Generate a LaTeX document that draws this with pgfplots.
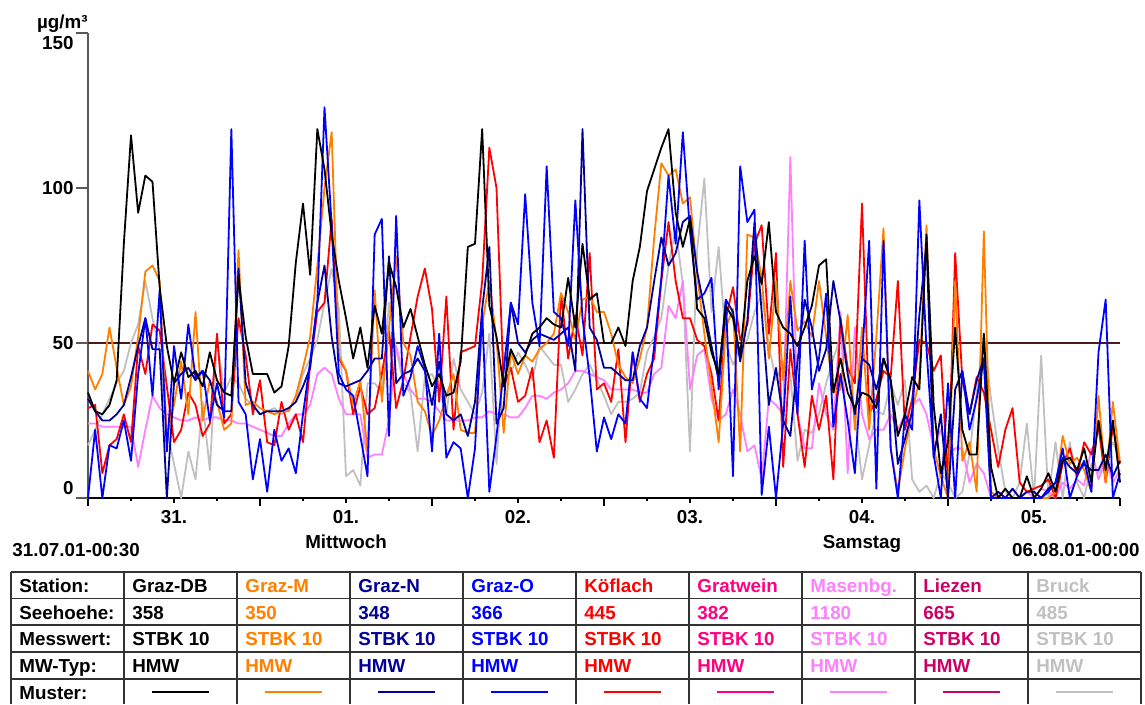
\documentclass[border=0pt]{standalone}
\usepackage{fontspec}
\setmainfont{Liberation Sans}
\usepackage{pgfplots}
\usepackage{pgfplotstable}
\pgfplotsset{compat=1.18}
\definecolor{cM}{HTML}{FF8000}
\definecolor{cN}{HTML}{000099}
\definecolor{cO}{HTML}{0000FF}
\definecolor{cK}{HTML}{FF0000}
\definecolor{cG}{HTML}{FF0080}
\definecolor{cMa}{HTML}{FF80FF}
\definecolor{cL}{HTML}{CC0066}
\definecolor{cB}{HTML}{C0C0C0}
\definecolor{cLim}{HTML}{4D1A1A}
\newcommand\lblfont{\bfseries\fontsize{9.4}{12.5}\selectfont}
\pgfplotstableread{
h db m n o k ma br
0 34 41 32 0 29 24 17
1 28 35 28 22 30 24 22
2 27 40 25 0 8 23 27
3 30 55 25 17 17 23 32
4 38 42 27 16 19 23 37
5 82 30 30 25 27 23 41
6 117 36 39 12 18 23 50
7 92 52 49 40 49 10 56
8 104 73 58 58 40 22 70
9 102 75 48 33 56 33 58
10 68 70 48 67 54 29 48
11 49 20 0 15 36 27 22
12 37 30 37 49 18 26 11
13 47 44 40 32 22 25 0
14 39 27 42 56 34 25 15
15 41 60 38 39 30 26 6
16 36 25 41 41 20 25 31
17 47 38 38 25 24 26 9
18 38 31 30 37 53 26 51
19 34 22 28 26 24 25 34
20 33 24 28 119 27 25 39
21 71 80 74 31 58 24 37
22 52 30 37 27 46 24 32
23 40 31 30 6 27 23 30
24 40 29 27 19 38 22 27
25 40 28 28 2 18 21 28
26 34 27 28 22 17 20 29
27 36 28 28 12 31 20 27
28 49 28 29 16 22 24 29
29 76 33 31 8 27 27 31
30 95 42 36 27 18 27 40
31 72 52 42 44 43 30 45
32 119 75 63 63 60 40 51
33 106 100 75 126 63 42 63
34 85 118 52 88 90 40 74
35 70 46 37 40 45 32 61
36 58 41 36 35 41 27 7
37 45 30 37 33 27 27 9
38 55 38 38 20 36 27 4
39 42 15 41 7 27 13 37
40 62 67 45 85 29 14 37
41 53 31 45 90 40 14 34
42 76 55 78 20 54 25 63
43 68 78 37 91 29 49 48
44 55 50 40 33 38 40 37
45 61 46 41 39 52 35 34
46 52 31 45 49 65 32 15
47 43 28 41 42 74 32 39
48 36 20 30 15 61 31 40
49 40 25 44 53 31 28 35
50 33 33 27 13 65 25 27
51 34 40 25 18 22 25 45
52 44 22 27 16 47 25 35
53 81 21 20 0 48 25 31
54 82 21 31 16 49 26 27
55 119 56 61 60 70 26 34
56 62 70 81 2 113 28 53
57 52 51 24 20 100 27 11
58 36 21 29 41 36 27 47
59 48 47 63 63 42 26 40
60 43 40 50 56 31 26 47
61 46 46 47 98 33 29 43
62 53 44 51 63 42 33 38
63 55 48 53 49 18 33 49
64 58 50 52 107 25 32 46
65 56 53 51 60 13 34 43
66 55 66 53 58 66 35 43
67 71 60 55 49 45 37 31
68 55 51 41 96 59 41 35
69 82 64 119 58 46 41 40
70 64 65 55 39 79 40 43
71 66 60 51 15 35 39 38
72 50 60 42 26 37 38 33
73 50 53 42 19 31 35 27
74 55 43 40 27 48 35 31
75 49 39 38 24 18 35 31
76 70 37 38 47 47 35 32
77 81 45 49 32 31 34 34
78 99 55 55 29 40 34 47
79 106 84 70 49 45 40 52
80 113 108 84 71 70 42 58
81 119 104 75 104 89 62 75
82 92 106 79 82 70 58 87
83 81 95 89 118 58 70 69
84 90 97 91 86 58 35 15
85 61 72 73 64 51 46 80
86 58 53 61 66 49 48 103
87 47 36 49 71 40 32 60
88 40 18 38 35 25 25 81
89 62 55 64 64 58 27 50
90 58 61 60 7 68 35 43
91 46 15 44 107 51 27 49
92 70 85 57 89 56 15 51
93 78 84 89 93 82 17 60
94 69 71 60 1 88 6 66
95 89 45 30 23 53 32 49
96 60 70 42 0 79 30 38
97 55 38 25 24 10 27 44
98 53 70 20 65 48 110 40
99 49 54 44 27 27 27 12
100 55 57 64 83 10 16 22
101 62 52 55 35 33 16 21
102 75 70 41 45 22 37 27
103 77 52 48 66 33 27 37
104 34 34 70 23 6 22 45
105 45 35 57 40 58 60 52
106 34 59 40 25 42 8 42
107 29 22 27 8 37 55 27
108 34 55 45 45 95 27 6
109 33 22 43 83 27 19 17
110 29 52 35 3 32 22 28
111 45 87 45 83 41 22 27
112 38 16 38 16 39 27 37
113 20 2 11 0 70 22 30
114 27 16 19 27 22 27 38
115 39 28 28 22 32 30 6
116 35 38 59 96 51 32 2
117 85 88 82 48 50 27 4
118 30 16 13 14 41 16 0
119 8 7 27 0 46 22 8
120 18 0 0 37 5 14 5
121 55 70 35 0 79 16 0
122 22 12 41 41 38 16 2
123 14 18 27 22 27 5 14
124 14 2 38 32 39 11 34
125 53 86 45 45 34 8 53
126 10 2 0 0 22 0 32
127 0 0 2 0 10 2 16
128 3 0 0 0 22 0 2
129 0 0 3 0 29 3 0
130 0 0 0 0 5 0 5
131 7 0 2 0 2 2 24
132 0 0 2 0 3 0 0
133 3 0 0 0 4 3 46
134 8 0 3 2 6 2 0
135 2 2 5 5 0 0 18
136 12 20 13 16 11 5 0
137 13 11 10 0 16 3 18
138 9 13 8 7 7 6 5
139 16 9 11 12 18 4 0
140 5 2 9 2 14 16 11
141 25 33 9 47 23 6 8
142 9 5 14 64 5 12 12
143 25 31 7 0 23 5 18
144 5 11 12 8 11 9 13
}\stbk
\begin{document}
\begin{tikzpicture}
\begin{scope}[x=0.5pt,y=-0.5pt,shift={(0pt,352pt)}]
\path[use as bounding box] (0,0) rectangle (1145,704);
\end{scope}
\begin{axis}[
  at={(44pt,103pt)}, anchor=south west,
  scale only axis, width=516pt, height=232.5pt,
  xmin=0, xmax=144, ymin=0, ymax=150,
  clip=false,
  axis x line=bottom, axis y line=left,
  axis line style={-},
  x axis line style={black, line width=0.7pt},
  y axis line style={black!65, line width=0.7pt},
  tick align=outside,
  tick style={black, line width=0.7pt},
  xtick={0,24,...,144}, xticklabels={},
  major tick length=4pt,
  minor xtick={6,18,...,138},
  minor tick length=1.5pt,
  extra x ticks={12,36,60,84,108,132},
  extra x tick labels={31.,{01.\\Mittwoch},02.,03.,{04.\\Samstag},05.},
  extra x tick style={major tick length=2.5pt,
     tick label style={align=center, font=\lblfont}},
  ytick=\empty,
  extra y ticks={0,50,100,150},
  extra y tick labels={},
  extra y tick style={major tick length=6pt, tick style={black!65}},
]
\addplot[cLim, line width=0.9pt] coordinates {(0,50) (144,50)};
\addplot[cB, line width=0.9pt, line join=round] table[x=h, y=br] {\stbk};
\addplot[cMa, line width=0.9pt, line join=round] table[x=h, y=ma] {\stbk};
\addplot[cK, line width=0.9pt, line join=round] table[x=h, y=k] {\stbk};
\addplot[cM, line width=0.9pt, line join=round] table[x=h, y=m] {\stbk};
\addplot[cN, line width=0.9pt, line join=round] table[x=h, y=n] {\stbk};
\addplot[cO, line width=0.9pt, line join=round] table[x=h, y=o] {\stbk};
\addplot[black, line width=0.9pt, line join=round] table[x=h, y=db] {\stbk};
\end{axis}
\begin{scope}[x=0.5pt,y=-0.5pt,shift={(0pt,352pt)}, every node/.style={font=\lblfont, inner sep=0pt}]
% y labels
\node[anchor=east] at (74,43.5) {150};
\node[anchor=east] at (74,188) {100};
\node[anchor=east] at (74,343) {50};
\node[anchor=east] at (74,488) {0};
\node[anchor=base east] at (88,28.5) {µg/m³};
\node[anchor=base west] at (12,556.5) {31.07.01-00:30};
\node[anchor=base east] at (1140,557) {06.08.01-00:00};
% table grid
\foreach \xx in {11,124,...,1141} \draw[black!80, line width=0.6pt] (\xx,572) -- (\xx,704);
\foreach \yy in {572,598.5,625,652,679} \draw[black!80, line width=0.6pt] (11,\yy) -- (1141,\yy);
\node[anchor=base west] at (19,593) {Station:};
\node[anchor=base west] at (19,619.5) {Seehoehe:};
\node[anchor=base west] at (19,646) {Messwert:};
\node[anchor=base west] at (19,673) {MW-Typ:};
\node[anchor=base west] at (19,700) {Muster:};
\foreach \i/\c/\n/\hh in {1/black/Graz-DB/358, 2/cM/Graz-M/350, 3/cN/Graz-N/348, 4/cO/Graz-O/366, 5/cK/Köflach/445, 6/cG/Gratwein/382, 7/cMa/Masenbg./1180, 8/cL/Liezen/665, 9/cB/Bruck/485}{
  \pgfmathsetmacro\xl{11+113*\i}
  \node[anchor=base west, text=\c] at (\xl+8,593) {\n};
  \node[anchor=base west, text=\c] at (\xl+8,619.5) {\hh};
  \node[anchor=base west, text=\c] at (\xl+8,646) {STBK 10};
  \node[anchor=base west, text=\c] at (\xl+8,673) {HMW};
  \draw[\c, line width=1pt] (\xl+28,692.5) -- (\xl+85,692.5);
}
\end{scope}
\end{tikzpicture}
\end{document}
